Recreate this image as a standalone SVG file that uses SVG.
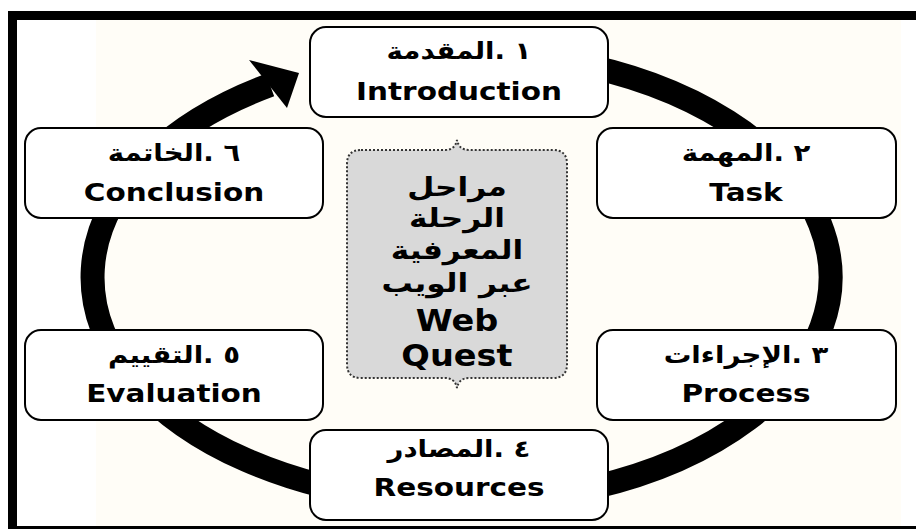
<svg xmlns="http://www.w3.org/2000/svg" width="916" height="529" viewBox="0 0 916 529">
<style>
.box{fill:#ffffff;stroke:#000000;stroke-width:2}
.ar{font-family:"DejaVu Sans",sans-serif;font-weight:bold;font-size:24px;fill:#000;text-anchor:middle;direction:rtl;unicode-bidi:bidi-override}
.en{font-family:"DejaVu Sans",sans-serif;font-weight:bold;font-size:25px;fill:#000;text-anchor:middle}
.car{font-family:"DejaVu Sans",sans-serif;font-weight:bold;font-size:26px;fill:#000;text-anchor:middle;direction:rtl;unicode-bidi:embed}
.cen{font-family:"DejaVu Sans",sans-serif;font-weight:bold;font-size:30px;fill:#000;text-anchor:middle}
</style>
<rect x="0" y="0" width="916" height="529" fill="#ffffff"/>
<rect x="96" y="20" width="805" height="506" fill="#fffdf7"/>
<rect x="8" y="11" width="908" height="9" fill="#000"/>
<rect x="8" y="11" width="9" height="518" fill="#000"/>
<rect x="8" y="526" width="908" height="3" fill="#000"/>
<g id="connectors">
<path d="M 395,56 A 369,225 0 1 1 270,85" fill="none" stroke="#000" stroke-width="24"/>
<polygon points="299,73 287,108 249,60" fill="#000"/>
</g>
<g id="center">
<path d="M 361,150 L 445,150 Q 455,150 457,140 Q 459,150 469,150 L 553,150 Q 567,150 567,164 L 567,364 Q 567,378 553,378 L 469,378 Q 459,378 457,388 Q 455,378 445,378 L 361,378 Q 347,378 347,364 L 347,164 Q 347,150 361,150 Z" fill="#d9d9d9" stroke="#333" stroke-width="2" stroke-dasharray="2 2"/>
<text class="car" transform="translate(457,196) scale(1.2,1)">مراحل</text>
<text class="car" transform="translate(457,227) scale(1.2,1)">الرحلة</text>
<text class="car" transform="translate(457,259) scale(1.2,1)">المعرفية</text>
<text class="car" transform="translate(457,292) scale(1.2,1)">عبر الويب</text>
<text class="cen" transform="translate(457,331) scale(1.12,1)">Web</text>
<text class="cen" transform="translate(457,366) scale(1.12,1)">Quest</text>
</g>
<g id="introduction">
<rect class="box" x="310" y="27" width="298" height="90" rx="16"/>
<text class="ar" transform="translate(459,59) scale(1.15,1)">١ .المقدمة</text>
<text class="en" transform="translate(459,100) scale(1.18,1)">Introduction</text>
</g>
<g id="task">
<rect class="box" x="597" y="128" width="299" height="90" rx="16"/>
<text class="ar" transform="translate(746,161) scale(1.15,1)">٢ .المهمة</text>
<text class="en" transform="translate(746,201) scale(1.18,1)">Task</text>
</g>
<g id="process">
<rect class="box" x="597" y="330" width="299" height="90" rx="16"/>
<text class="ar" transform="translate(746,363) scale(1.15,1)">٣ .الإجراءات</text>
<text class="en" transform="translate(746,402) scale(1.18,1)">Process</text>
</g>
<g id="resources">
<rect class="box" x="310" y="430" width="298" height="90" rx="16"/>
<text class="ar" transform="translate(459,457) scale(1.15,1)">٤ .المصادر</text>
<text class="en" transform="translate(459,496) scale(1.18,1)">Resources</text>
</g>
<g id="evaluation">
<rect class="box" x="25" y="330" width="298" height="90" rx="16"/>
<text class="ar" transform="translate(174,363) scale(1.15,1)">٥ .التقييم</text>
<text class="en" transform="translate(174,402) scale(1.18,1)">Evaluation</text>
</g>
<g id="conclusion">
<rect class="box" x="25" y="128" width="298" height="90" rx="16"/>
<text class="ar" transform="translate(174,161) scale(1.15,1)">٦ .الخاتمة</text>
<text class="en" transform="translate(174,201) scale(1.18,1)">Conclusion</text>
</g>
</svg>
